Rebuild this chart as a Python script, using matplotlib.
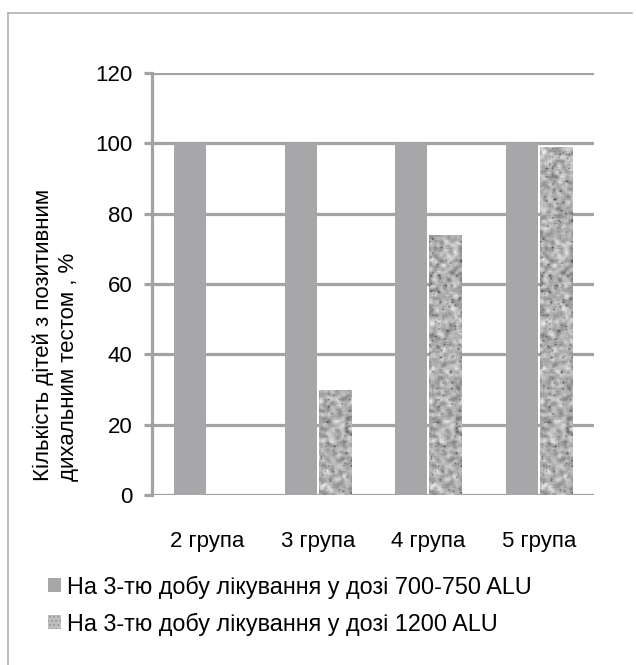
import numpy as np
import matplotlib
matplotlib.use("Agg")
import matplotlib.pyplot as plt
from matplotlib.patches import Patch

plt.rcParams['font.family'] = ['Liberation Sans', 'DejaVu Sans']

# data
groups = ['2 група', '3 група', '4 група', '5 група']
dose_700 = [100, 100, 100, 100]
dose_1200 = [0, 30, 74, 99]
labels = ['На 3-тю добу лікування у дозі 700-750 ALU',
          'На 3-тю добу лікування у дозі 1200 ALU']
yticks = [0, 20, 40, 60, 80, 100, 120]

grey = '#a7a7a9'
line_grey = '#a3a3a5'
fs = 16

W, H = 636, 665
fig = plt.figure(figsize=(W / 100, H / 100), dpi=100)
ax = fig.add_axes([152 / W, (H - 495) / H, (594 - 152) / W, (495 - 73) / H])

x = np.arange(len(groups))
bw = 0.29
gap = 0.014
b1 = ax.bar(x - bw / 2 - gap / 2, dose_700, bw, color=grey, zorder=3)
b2 = ax.bar(x + bw / 2 + gap / 2, dose_1200, bw, color='#b0b0b2', zorder=3)

# speckled texture for the second series (fill style only)
rng = np.random.default_rng(11)
noise = rng.normal(0, 1, (300, 22))
sm = np.zeros_like(noise)
for dy in range(-1, 2):
    for dx in range(-1, 2):
        sm += np.roll(np.roll(noise, dy, 0), dx, 1) / 9.0
tex = 0.69 + 0.24 * sm
spots = rng.random(noise.shape) < 0.025
tex[spots] -= 0.32
tex = np.clip(tex, 0.2, 0.95)
for r in b2:
    if r.get_height() <= 0:
        continue
    x0, w = r.get_x(), r.get_width()
    im = ax.imshow(tex, cmap='gray', vmin=0, vmax=1, extent=(x0, x0 + w, 0, 120),
                   aspect='auto', interpolation='bilinear', zorder=4, origin='lower')
    im.set_clip_path(r)

ax.set_xlim(-0.5, 3.5)
ax.set_ylim(0, 120)
ax.set_yticks(yticks)
ax.set_xticks(x)
ax.set_xticklabels(groups)
ax.yaxis.grid(True, color=line_grey, linewidth=2.3, zorder=1)
ax.set_axisbelow(True)
for s in ['top', 'right', 'bottom']:
    ax.spines[s].set_visible(False)
ax.spines['left'].set_color(line_grey)
ax.spines['left'].set_linewidth(2.3)
ax.spines['left'].set_zorder(2)
ax.tick_params(axis='y', length=6, width=2.3, color=line_grey, labelsize=fs, pad=8)
ax.tick_params(axis='x', length=0, labelsize=fs, pad=26)

fig.text(33 / W, (H - 481) / H, 'Кількість дітей з позитивним\nдихальним тестом , %',
         rotation=90, ha='left', va='bottom', multialignment='left', fontsize=fs,
         linespacing=1.2)

handles = [Patch(facecolor=grey, edgecolor='none'),
           Patch(facecolor='#c0c0c2', edgecolor='#9a9a9c', hatch='....', linewidth=0)]
fig.legend(handles, labels, loc='upper left', bbox_to_anchor=(39 / W, (H - 566) / H),
           frameon=False, fontsize=16.8, handlelength=0.55, handleheight=0.55,
           handletextpad=0.25, labelspacing=0.6, borderaxespad=0)

# thin frame around the figure (top and left visible)
fig.add_artist(plt.Line2D([8 / W, 632 / W], [(H - 13) / H, (H - 13) / H],
                          color='#b0b0b0', linewidth=1.2, transform=fig.transFigure))
fig.add_artist(plt.Line2D([8 / W, 8 / W], [0, (H - 13) / H],
                          color='#b0b0b0', linewidth=1.2, transform=fig.transFigure))

fig.savefig('out.png', dpi=100)
